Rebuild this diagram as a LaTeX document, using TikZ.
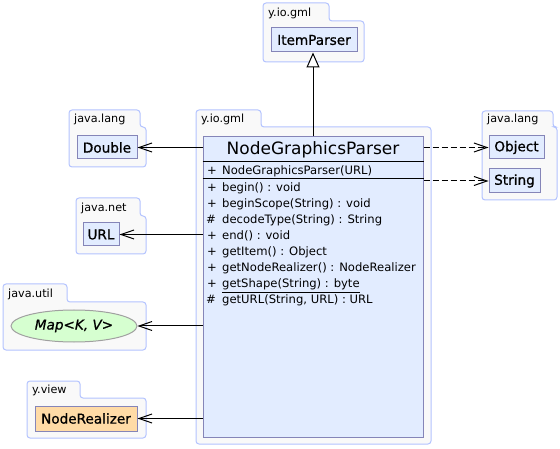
\documentclass[tikz,border=0pt]{standalone}
\usepackage{fontspec}
\setmainfont{DejaVu Sans}
\newfontfamily\clsfont[FakeBold=0.8]{DejaVu Sans}
\usetikzlibrary{arrows.meta,shapes.geometric}
\definecolor{pkgborder}{HTML}{B3C3FF}
\definecolor{pkgfill}{HTML}{F9F9F9}
\definecolor{clsfill}{HTML}{E2ECFF}
\definecolor{clsborder}{HTML}{8585B8}
\definecolor{realfill}{HTML}{FFDBA6}
\definecolor{mapfill}{HTML}{D6FFD0}
\definecolor{mapborder}{HTML}{A0A0A0}
\tikzset{
  pkg/.style={draw=pkgborder,fill=pkgfill,line width=1pt,rounded corners=3pt},
  pkglabel/.style={anchor=base west,inner sep=0pt,font=\fontsize{11.2}{13}\selectfont},
  cls/.style={draw=clsborder,fill=clsfill,line width=1pt,inner sep=0pt,font=\clsfont\fontsize{13.6}{16}\selectfont},
  member/.style={anchor=base west,inner sep=0pt,font=\fontsize{11.6}{14}\selectfont},
  dep/.style={line width=1pt,-{Straight Barb[length=13pt,width=9pt]}},
  usedep/.style={line width=1pt,dash pattern=on 6pt off 3pt,-{Straight Barb[length=13pt,width=9pt]}},
  inherit/.style={line width=1pt,-{Triangle[open,length=15pt,width=13pt,fill=white]}},
  sepline/.style={line width=1pt,black}
}
\newcommand\umlpkg[8]{%
  \draw[pkg] (#3,#6) -- (#3,#4) -- (#5,#4) -- (#5,#6) -- (#7,#6) -- (#7,#8) -- (#3,#8) -- cycle;
  \node[pkglabel] (#1) at (#3+5,#6-4.5) {#2};}
\begin{document}
\begin{tikzpicture}[x=1pt,y=-1pt]
\useasboundingbox (0,0) rectangle (560,449);
% packages
\umlpkg{pkgA}{y.io.gml}{263}{3}{329}{21}{364}{62}
\umlpkg{pkgB}{y.io.gml}{196}{110}{261}{127}{431}{444}
\umlpkg{pkgC}{java.lang}{69}{110}{140}{127}{146}{167}
\umlpkg{pkgD}{java.net}{76}{198}{140}{216}{146}{254}
\umlpkg{pkgE}{java.util}{3}{284}{67}{302}{146}{350}
\umlpkg{pkgF}{y.view}{27}{381}{80}{398}{146}{438}
\umlpkg{pkgG}{java.lang}{482}{111}{553}{127}{557}{200}
% classes
\node[cls,minimum width=86pt,minimum height=24pt] (ip) at (314,40) {ItemParser};
\node[cls,minimum width=60pt,minimum height=23pt] (dbl) at (107,147.5) {Double};
\node[cls,minimum width=36pt,minimum height=23pt] (url) at (101,234.5) {URL};
\node[cls,ellipse,draw=mapborder,fill=mapfill,minimum width=126pt,minimum height=32pt] (map) at (74,326) {\itshape Map<K, V>};
\node[cls,fill=realfill,minimum width=102pt,minimum height=25pt] (nr) at (86,418.5) {NodeRealizer};
\node[cls,minimum width=55pt,minimum height=23pt] (obj) at (516.5,147.5) {Object};
\node[cls,minimum width=51pt,minimum height=24pt] (str) at (514.5,181) {String};
% main class
\node[cls,minimum width=220pt,minimum height=300pt] (ngp) at (313,287) {};
\draw[sepline] ([yshift=-25pt]ngp.north west) coordinate (s1) -- (s1 -| ngp.east);
\draw[sepline] ([yshift=-42pt]ngp.north west) coordinate (s2) -- (s2 -| ngp.east);
\node[anchor=base,inner sep=0pt,font=\fontsize{17}{20}\selectfont] (title) at (313,155) {NodeGraphicsParser};
\node[member] (v0) at (207,175) {+};
\node[member] (t0) at (222,175) {NodeGraphicsParser(URL)};
\node[member] (v1) at (207,192) {+};
\node[member] (t1) at (222,192) {begin() : void};
\node[member] (v2) at (207,208) {+};
\node[member] (t2) at (222,208) {beginScope(String) : void};
\node[member] (v3) at (206,224) {\#};
\node[member] (t3) at (222,224) {decodeType(String) : String};
\node[member] (v4) at (207,240) {+};
\node[member] (t4) at (222,240) {end() : void};
\node[member] (v5) at (207,256) {+};
\node[member] (t5) at (222,256) {getItem() : Object};
\node[member] (v6) at (207,272) {+};
\node[member] (t6) at (222,272) {getNodeRealizer() : NodeRealizer};
\node[member] (v7) at (207,288) {+};
\node[member] (t7) at (222,288) {\underline{getShape(String) : byte}};
\node[member] (v8) at (206,304) {\#};
\node[member] (t8) at (222,304) {getURL(String, URL) : URL};
% connectors
\draw[inherit] (ngp.north) -- (ngp.north |- ip.south);
\draw[dep] (ngp.west |- dbl) -- (dbl.east);
\draw[dep] (ngp.west |- url) -- (url.east);
\draw[dep] (ngp.west |- map) -- (map.east);
\draw[dep] (ngp.west |- nr) -- (nr.east);
\draw[usedep] (ngp.east |- obj) -- (obj.west);
\draw[usedep] (ngp.east |- str) -- (str.west);
\end{tikzpicture}
\end{document}
